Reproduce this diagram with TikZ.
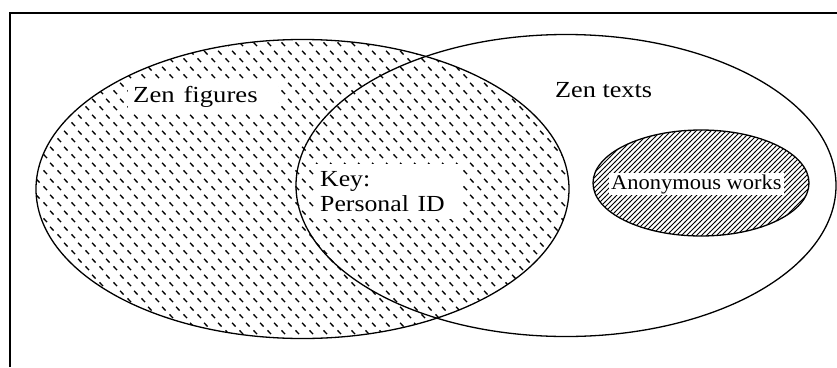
\documentclass[tikz,border=0pt]{standalone}
\usepackage{fontspec}
\setmainfont{Liberation Serif}
\usepackage{graphicx}
\usetikzlibrary{shapes.geometric,patterns}
\pgfdeclarepatternformonly{zendash}{\pgfqpoint{0pt}{0pt}}{\pgfqpoint{14pt}{16pt}}{\pgfqpoint{14pt}{16pt}}{%
  \pgfsetlinewidth{1.4pt}%
  \pgfpathmoveto{\pgfqpoint{1.6pt}{6pt}}\pgfpathlineto{\pgfqpoint{5.4pt}{2pt}}%
  \pgfpathmoveto{\pgfqpoint{8.6pt}{14pt}}\pgfpathlineto{\pgfqpoint{12.4pt}{10pt}}%
  \pgfusepath{stroke}}
\pgfdeclarepatternformonly{anonhatch}{\pgfqpoint{-1pt}{-1pt}}{\pgfqpoint{6pt}{6pt}}{\pgfqpoint{5pt}{5pt}}{%
  \pgfsetlinewidth{1pt}%
  \pgfpathmoveto{\pgfqpoint{-0.1pt}{-0.1pt}}\pgfpathlineto{\pgfqpoint{5.1pt}{5.1pt}}%
  \pgfusepath{stroke}}
\newcommand\hstretch[2]{\scalebox{#1}[1]{#2}}
\begin{document}
\begin{tikzpicture}[x=1pt,y=-1pt,
  venn/.style={ellipse, draw=black, line width=1.3pt, inner sep=0pt},
  lbl/.style={font=\fontsize{23}{25}\selectfont, inner sep=0pt, align=left},
  whitebox/.style={fill=white, inner xsep=5pt, inner ysep=0pt, anchor=north west, align=left}]
\useasboundingbox (0,0) rectangle (837,367);
\fill[white] (0,0) rectangle (837,367);
% frame
\draw[line width=2pt] (10,367) -- (10,13) -- (837,13);
% ellipses
\node[venn, pattern=zendash, minimum width=533pt, minimum height=299pt] (figures) at (302.5,189) {};
\node[venn, minimum width=540pt, minimum height=302pt] (texts) at (566,185.5) {};
\node[venn, pattern=anonhatch, minimum width=216pt, minimum height=106pt] (anon) at (701,183) {};
% labels
\node[lbl, whitebox, minimum width=150pt, minimum height=30pt, text width=140pt] (figlbl) at (128,82) {\hstretch{1.16}{Zen figures}};
\node[lbl, anchor=base west] (txtlbl) at (555,97) {\hstretch{1.14}{Zen texts}};
\node[lbl, whitebox, minimum width=147pt, minimum height=55pt, text width=137pt] (keylbl) at (315,164) {\hstretch{1.12}{Key:}\\\hstretch{1.12}{Personal ID}};
\node[whitebox, font=\fontsize{21}{23}\selectfont, inner xsep=2pt, inner ysep=1pt, anchor=base west] (anonlbl) at (609,189) {\hstretch{1.07}{Anonymous works}};
\end{tikzpicture}
\end{document}
